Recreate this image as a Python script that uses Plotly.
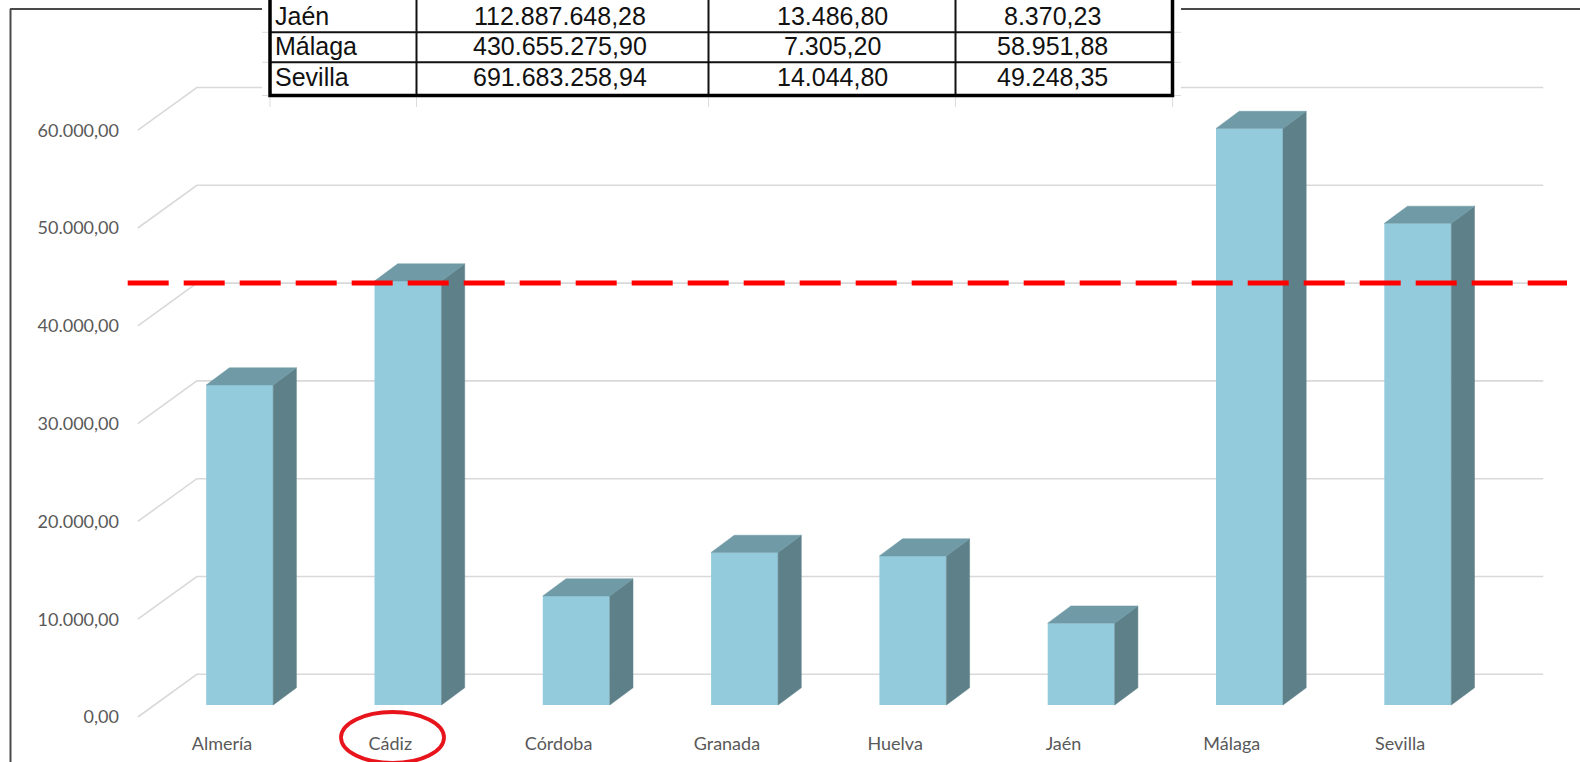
import plotly.graph_objects as go

# ---------------- data ----------------
CATEGORIES = ["Almería", "Cádiz", "Córdoba", "Granada", "Huelva", "Jaén", "Málaga", "Sevilla"]
VALUES = [32720, 43350, 11150, 15600, 15240, 8370.23, 58951.88, 49248.35]
Y_TICKS = [0, 10000, 20000, 30000, 40000, 50000, 60000]
REF_LEVEL = 40000
HIGHLIGHT = "Cádiz"

TABLE_NAMES = ["Jaén", "Málaga", "Sevilla"]
TABLE_COL2 = ["112.887.648,28", "430.655.275,90", "691.683.258,94"]
TABLE_COL3 = ["13.486,80", "7.305,20", "14.044,80"]
TABLE_COL4 = ["8.370,23", "58.951,88", "49.248,35"]

# ---------------- geometry / style ----------------
W, H = 1580, 762
PX_PER_CAT = 168.3
CAT0_PX = 222.0
PX_PER_UNIT = 0.00978
ZERO_PX = 717.0
PLOT_L, PLOT_R, PLOT_T, PLOT_B = 128, 1580, 0, 728


def cat_x(px):
    return (px - CAT0_PX) / PX_PER_CAT


def val_y(py):
    return (ZERO_PX - py) / PX_PER_UNIT


def pxx(px):
    return px / W


def pxy(py):
    return 1 - py / H


WALL_DX = 59 / PX_PER_CAT
WALL_DY = 42.7 / PX_PER_UNIT
BAR_DX0 = 17.7 / PX_PER_CAT
BAR_DY0 = 12 / PX_PER_UNIT
BAR_DDX = 23.2 / PX_PER_CAT
BAR_DDY = 17.2 / PX_PER_UNIT
BAR_W = 67 / PX_PER_CAT

FRONT = "#93cbdc"
SIDE = "#5e8089"
TOP = "#6f9aa6"
GRID = "#d9d9d9"
TICK_FONT = dict(family="Lato, 'Open Sans', sans-serif", size=18, color="#595959")
TABLE_FONT = dict(family="'Liberation Sans', Arial, sans-serif", size=25, color="#111111")

n = len(CATEGORIES)
xs = list(range(n))
bar_x = [i + BAR_DX0 for i in xs]

fig = go.Figure()

# front faces
fig.add_trace(go.Bar(
    x=bar_x, y=VALUES, base=[BAR_DY0] * n, width=BAR_W,
    marker=dict(color=FRONT, line=dict(width=0)), hoverinfo="skip"))

# side + top faces
side_x, side_y, top_x, top_y = [], [], [], []
for xc, v in zip(bar_x, VALUES):
    xl, xr = xc - BAR_W / 2, xc + BAR_W / 2
    b, t = BAR_DY0, BAR_DY0 + v
    side_x += [xr, xr + BAR_DDX, xr + BAR_DDX, xr, xr, None]
    side_y += [b, b + BAR_DDY, t + BAR_DDY, t, b, None]
    top_x += [xl, xr, xr + BAR_DDX, xl + BAR_DDX, xl, None]
    top_y += [t, t, t + BAR_DDY, t + BAR_DDY, t, None]

fig.add_trace(go.Scatter(x=side_x, y=side_y, mode="lines", fill="toself", fillcolor=SIDE,
                         line=dict(color=SIDE, width=0.5), hoverinfo="skip"))
fig.add_trace(go.Scatter(x=top_x, y=top_y, mode="lines", fill="toself", fillcolor=TOP,
                         line=dict(color=TOP, width=0.5), hoverinfo="skip"))

shapes = []
# back-wall gridlines with their diagonal connectors
x_front_l, x_front_r = -0.5, n - 0.5
for v in Y_TICKS:
    path = (f"M {x_front_l},{v} L {x_front_l + WALL_DX},{v + WALL_DY} "
            f"L {x_front_r + WALL_DX},{v + WALL_DY}")
    shapes.append(dict(type="path", path=path, xref="x", yref="y", layer="below",
                       line=dict(color=GRID, width=1.6)))

# red dashed reference line (drawn on the back-wall level)
shapes.append(dict(type="line", xref="paper", yref="y", x0=pxx(127.7), x1=pxx(1567),
                   y0=REF_LEVEL + WALL_DY, y1=REF_LEVEL + WALL_DY, layer="above",
                   line=dict(color="#ff0000", width=5, dash="41px,15px")))

# red ellipse around highlighted category label
hi = CATEGORIES.index(HIGHLIGHT)
rx = 51.5 / PX_PER_CAT
cx_off = 2.2 / PX_PER_CAT
shapes.append(dict(type="circle", xref="x", yref="paper",
                   x0=hi + cx_off - rx, x1=hi + cx_off + rx,
                   y0=pxy(763), y1=pxy(712), layer="above",
                   line=dict(color="#e8141c", width=3.8)))

# outer frame of the picture
shapes.append(dict(type="line", xref="paper", yref="paper", x0=pxx(10.5), x1=pxx(10.5),
                   y0=pxy(9), y1=pxy(763), layer="above", line=dict(color="#4a4a4a", width=2)))
shapes.append(dict(type="line", xref="paper", yref="paper", x0=pxx(10), x1=1,
                   y0=pxy(9), y1=pxy(9), layer="above", line=dict(color="#4a4a4a", width=2)))

# pasted table: white backdrop
shapes.append(dict(type="rect", xref="paper", yref="paper", x0=pxx(262), x1=pxx(1181),
                   y0=pxy(107), y1=pxy(-2), layer="above", fillcolor="white", line=dict(width=0)))

COL_B = [270, 416.5, 708.5, 955.5, 1172.5]
ROW_B = [2.5, 32.3, 62.3, 95.5]

# faint spreadsheet grid around table
for cx in COL_B:
    shapes.append(dict(type="line", xref="paper", yref="paper", x0=pxx(cx), x1=pxx(cx),
                       y0=pxy(96), y1=pxy(107), layer="above", line=dict(color="#dcdcdc", width=1)))
for ry in ROW_B[1:]:
    shapes.append(dict(type="line", xref="paper", yref="paper", x0=pxx(262), x1=pxx(268),
                       y0=pxy(ry), y1=pxy(ry), layer="above", line=dict(color="#dcdcdc", width=1)))
    shapes.append(dict(type="line", xref="paper", yref="paper", x0=pxx(1174), x1=pxx(1181),
                       y0=pxy(ry), y1=pxy(ry), layer="above", line=dict(color="#dcdcdc", width=1)))

# table inner lines
for ry in ROW_B[1:-1]:
    shapes.append(dict(type="line", xref="paper", yref="paper", x0=pxx(COL_B[0]), x1=pxx(COL_B[-1]),
                       y0=pxy(ry), y1=pxy(ry), layer="above", line=dict(color="#111111", width=2)))
for cx in COL_B[1:-1]:
    shapes.append(dict(type="line", xref="paper", yref="paper", x0=pxx(cx), x1=pxx(cx),
                       y0=pxy(-2), y1=pxy(ROW_B[-1]), layer="above", line=dict(color="#111111", width=2)))
# table thick outer border (left, right, bottom)
shapes.append(dict(type="path", xref="paper", yref="paper",
                   path=(f"M {pxx(COL_B[0])},{pxy(-3)} L {pxx(COL_B[0])},{pxy(ROW_B[-1])} "
                         f"L {pxx(COL_B[-1])},{pxy(ROW_B[-1])} L {pxx(COL_B[-1])},{pxy(-3)}"),
                   layer="above", line=dict(color="#000000", width=3.5)))

annotations = []
TEXT_CY = [16.0, 46.0, 77.0]
COL_TEXT_X = [(273, "left"), (560, "center"), (832, "center"), (1052, "center")]
for r in range(len(TABLE_NAMES)):
    row_vals = [TABLE_NAMES[r], TABLE_COL2[r], TABLE_COL3[r], TABLE_COL4[r]]
    for (tx, anchor), val in zip(COL_TEXT_X, row_vals):
        annotations.append(dict(text=val, xref="paper", yref="paper", x=pxx(tx), y=pxy(TEXT_CY[r]),
                                xanchor=anchor, yanchor="middle", showarrow=False, font=TABLE_FONT))

fig.update_layout(
    template="none",
    width=W, height=H,
    margin=dict(l=0, r=0, t=0, b=0, pad=0),
    paper_bgcolor="white", plot_bgcolor="white",
    showlegend=False,
    separators=",.",
    shapes=shapes,
    annotations=annotations,
    xaxis=dict(domain=[pxx(PLOT_L), pxx(PLOT_R)], range=[cat_x(PLOT_L), cat_x(PLOT_R)],
               tickmode="array", tickvals=xs, ticktext=CATEGORIES, showgrid=False,
               zeroline=False, showline=False, ticks="", tickfont=TICK_FONT,
               ticklabelstandoff=3, automargin=False, fixedrange=True),
    yaxis=dict(domain=[pxy(PLOT_B), pxy(PLOT_T)], range=[val_y(PLOT_B), val_y(PLOT_T)],
               tickmode="array", tickvals=Y_TICKS, tickformat=",.2f", showgrid=False,
               zeroline=False, showline=False, ticks="", tickfont=TICK_FONT,
               ticklabelstandoff=8, automargin=False, fixedrange=True),
)

fig.write_html("out.html", config={"displayModeBar": False},
               post_script="document.body.style.margin='0';document.body.style.overflow='hidden';")
